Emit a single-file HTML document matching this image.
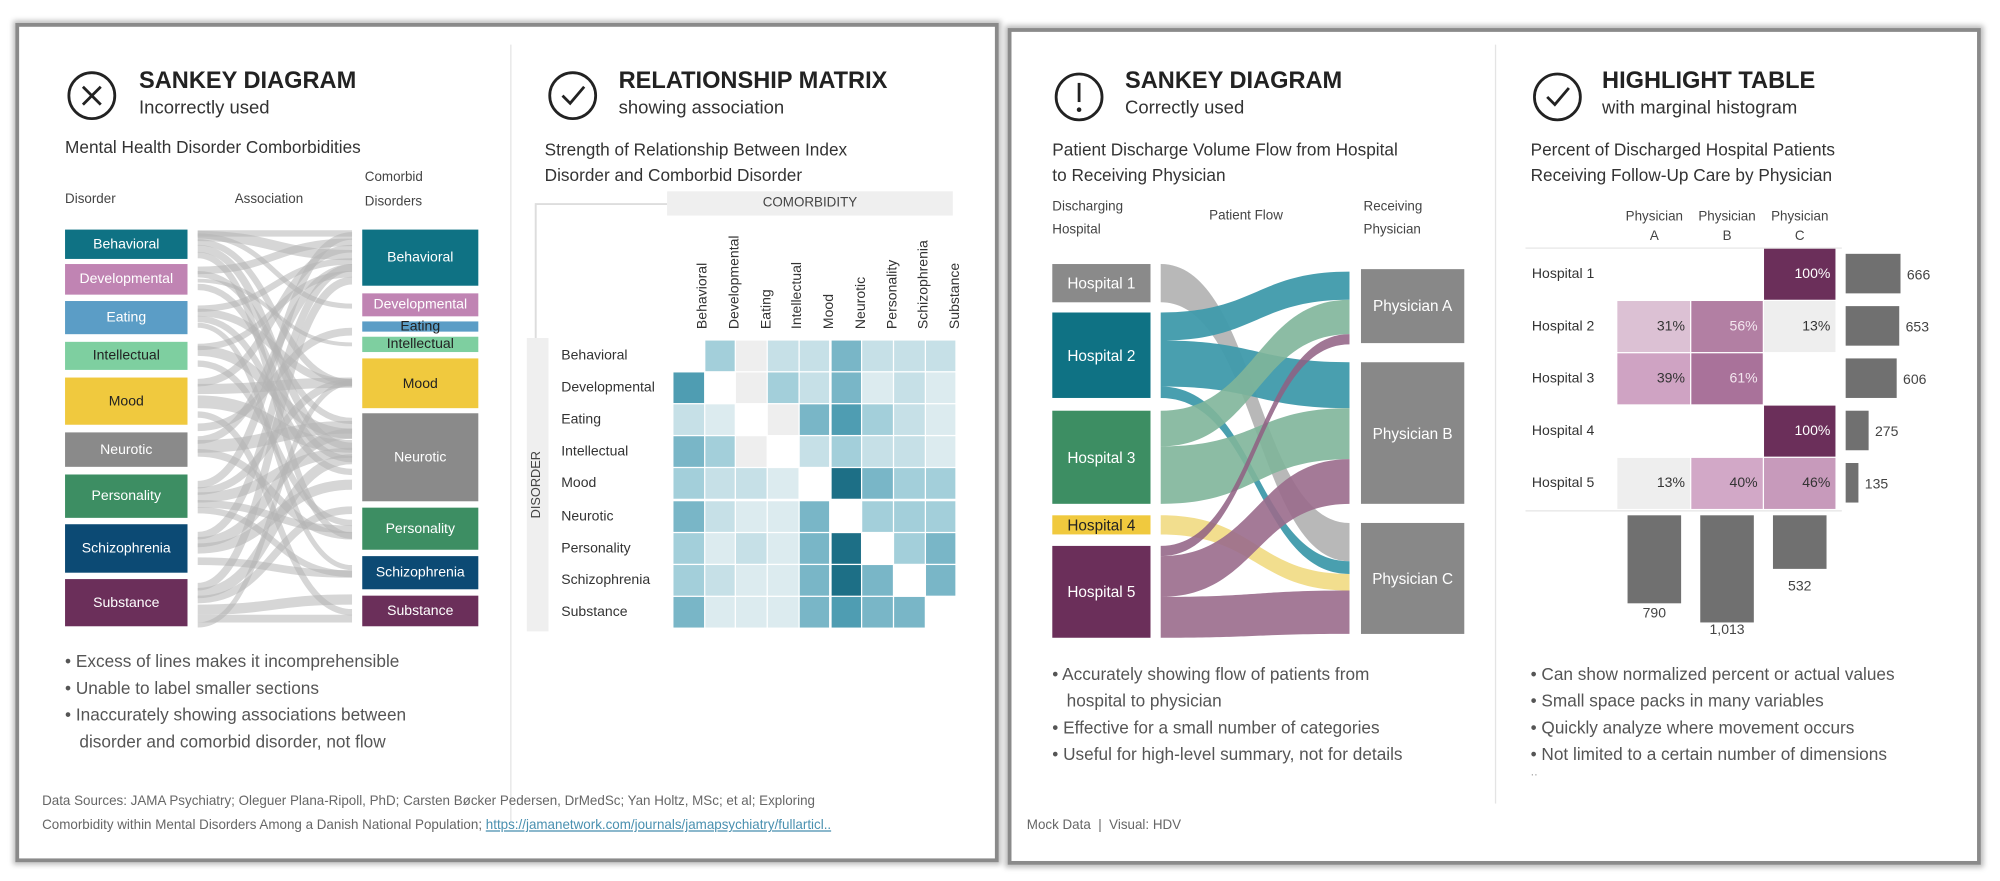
<!DOCTYPE html>
<html><head><meta charset="utf-8"><style>
html,body{margin:0;padding:0;background:#fff;width:2000px;height:881px;overflow:hidden}
#w{position:absolute;left:0;top:0;width:1568px;height:691px;transform:scale(1.27551);transform-origin:0 0;font-family:"Liberation Sans",sans-serif}
.card{position:absolute;background:#fff;border:3px solid #8a8a8a;box-shadow:0 0 4px 2px #bbb}
.t{position:absolute;white-space:nowrap;color:#333}
.h{font-weight:bold;font-size:18.5px;color:#222}
.s{font-size:14.5px;color:#333}
.c{font-size:13.5px;color:#333}
.l{font-size:10.5px;color:#444}
.b{font-size:13.5px;color:#555}
.box{position:absolute;color:#fff;font-size:11px;display:flex;align-items:center;justify-content:center}
</style></head><body><div id="w">
<div class="card" style="left:12px;top:18px;width:765px;height:652px"></div>
<div class="card" style="left:790px;top:22px;width:757px;height:650px"></div>
<div style="position:absolute;left:400px;top:35px;width:1px;height:610px;background:#e4e4e4"></div>
<div style="position:absolute;left:1172px;top:35px;width:1px;height:595px;background:#e4e4e4"></div>

<svg width="1568" height="691" style="position:absolute;left:0;top:0">
<g fill="none" stroke="#222" stroke-width="2.2">
<circle cx="72" cy="75" r="18"/><path d="M65 68 L79 82 M79 68 L65 82"/>
<circle cx="449" cy="75" r="18"/><path d="M441 75 L447 81 L458 68"/>
<circle cx="846" cy="76" r="18"/><path d="M846 65 L846 80"/>
<circle cx="1221" cy="76" r="18"/><path d="M1213 76 L1219 82 L1230 69"/>
</g>
<circle cx="846" cy="86" r="1.8" fill="#222"/>
<g fill="none" stroke="#b5b5b5" stroke-opacity="0.55">
<path d="M155 185C215 185 215 200 276 200" stroke-width="8"/><path d="M155 185C215 185 215 240 276 240" stroke-width="4"/>
<path d="M155 190C215 190 215 300 276 300" stroke-width="5"/><path d="M155 195C215 195 215 350 276 350" stroke-width="6"/>
<path d="M155 200C215 200 215 420 276 420" stroke-width="5"/><path d="M155 212C215 212 215 190 276 190" stroke-width="6"/>
<path d="M155 215C215 215 215 330 276 330" stroke-width="5"/><path d="M155 220C215 220 215 270 276 270" stroke-width="3"/>
<path d="M155 225C215 225 215 360 276 360" stroke-width="5"/><path d="M155 242C215 242 215 205 276 205" stroke-width="5"/>
<path d="M155 245C215 245 215 300 276 300" stroke-width="6"/><path d="M155 250C215 250 215 370 276 370" stroke-width="5"/>
<path d="M155 255C215 255 215 445 276 445" stroke-width="4"/><path d="M155 272C215 272 215 215 276 215" stroke-width="5"/>
<path d="M155 275C215 275 215 340 276 340" stroke-width="8"/><path d="M155 285C215 285 215 410 276 410" stroke-width="5"/>
<path d="M155 300C215 300 215 195 276 195" stroke-width="6"/><path d="M155 305C215 305 215 300 276 300" stroke-width="8"/>
<path d="M155 315C215 315 215 350 276 350" stroke-width="10"/><path d="M155 325C215 325 215 480 276 480" stroke-width="5"/>
<path d="M155 345C215 345 215 210 276 210" stroke-width="6"/><path d="M155 350C215 350 215 335 276 335" stroke-width="10"/>
<path d="M155 355C215 355 215 420 276 420" stroke-width="6"/><path d="M155 380C215 380 215 185 276 185" stroke-width="6"/>
<path d="M155 385C215 385 215 300 276 300" stroke-width="6"/><path d="M155 390C215 390 215 355 276 355" stroke-width="8"/>
<path d="M155 395C215 395 215 415 276 415" stroke-width="6"/><path d="M155 400C215 400 215 450 276 450" stroke-width="5"/>
<path d="M155 420C215 420 215 210 276 210" stroke-width="6"/><path d="M155 425C215 425 215 340 276 340" stroke-width="8"/>
<path d="M155 430C215 430 215 380 276 380" stroke-width="8"/><path d="M155 440C215 440 215 450 276 450" stroke-width="6"/>
<path d="M155 460C215 460 215 220 276 220" stroke-width="6"/><path d="M155 465C215 465 215 360 276 360" stroke-width="8"/>
<path d="M155 470C215 470 215 400 276 400" stroke-width="6"/><path d="M155 478C215 478 215 470 276 470" stroke-width="8"/>
<path d="M155 485C215 485 215 485 276 485" stroke-width="6"/><path d="M155 490C215 490 215 300 276 300" stroke-width="4"/>
<path d="M155 183C215 183 215 183 276 183" stroke-width="5"/><path d="M155 335C215 335 215 260 276 260" stroke-width="6"/>
</g>
<!-- matrix bracket -->
<path d="M523 160 L420 160 L420 265" fill="none" stroke="#ddd" stroke-width="1.5"/>
<!-- patient sankey flows -->
<g stroke="none">
<path d="M910 207C985 207 985 410 1058 410L1058 440C985 440 985 237 910 237Z" fill="#b0b0b0" opacity="0.9"/>
<path d="M910 245C985 245 985 213 1058 213L1058 235C985 235 985 267 910 267Z" fill="#3f9aab" opacity="0.95"/>
<path d="M910 267C985 267 985 284 1058 284L1058 320C985 320 985 303 910 303Z" fill="#3f9aab" opacity="0.95"/>
<path d="M910 303C985 303 985 440 1058 440L1058 450C985 450 985 312 910 312Z" fill="#3f9aab" opacity="0.95"/>
<path d="M910 322C985 322 985 235 1058 235L1058 262C985 262 985 350 910 350Z" fill="#7fb59a" opacity="0.9"/>
<path d="M910 350C985 350 985 320 1058 320L1058 360C985 360 985 395 910 395Z" fill="#7fb59a" opacity="0.9"/>
<path d="M910 404C985 404 985 450 1058 450L1058 463C985 463 985 419 910 419Z" fill="#f1dc88" opacity="0.95"/>
<path d="M910 428C985 428 985 262 1058 262L1058 270C985 270 985 436 910 436Z" fill="#8f5f82" opacity="0.85"/>
<path d="M910 436C985 436 985 360 1058 360L1058 395C985 395 985 468 910 468Z" fill="#9a6c8c" opacity="0.9"/>
<path d="M910 468C985 468 985 463 1058 463L1058 497C985 497 985 500 910 500Z" fill="#9a6c8c" opacity="0.9"/>
</g>
<!-- histogram -->
<g fill="#707070">
<rect x="1447" y="199" width="43" height="31"/><rect x="1447" y="240" width="42" height="31"/>
<rect x="1447" y="281" width="40" height="31"/><rect x="1447" y="322" width="18" height="31"/>
<rect x="1447" y="363" width="10" height="31"/>
<rect x="1276" y="404" width="42" height="69"/><rect x="1333" y="404" width="42" height="84"/>
<rect x="1390" y="404" width="42" height="42"/>
</g>
<g font-family="Liberation Sans" font-size="11" fill="#444">
<text x="1495" y="219">666</text><text x="1494" y="260">653</text><text x="1492" y="301">606</text>
<text x="1470" y="342">275</text><text x="1462" y="383">135</text>
<text x="1297" y="484" text-anchor="middle">790</text><text x="1354" y="497" text-anchor="middle">1,013</text>
<text x="1411" y="463" text-anchor="middle">532</text>
</g>
</svg>

<!-- Section 1 -->
<div class="t h" style="left:109px;top:52px">SANKEY DIAGRAM</div>
<div class="t s" style="left:109px;top:77px">Incorrectly used</div>
<div class="t c" style="left:51px;top:108px">Mental Health Disorder Comborbidities</div>
<div class="t l" style="left:51px;top:150px">Disorder</div>
<div class="t l" style="left:184px;top:150px">Association</div>
<div class="t l" style="left:286px;top:130px;line-height:19px">Comorbid<br>Disorders</div>
<div class="box" style="left:51px;top:180px;width:96px;height:23px;background:#0f7284">Behavioral</div>
<div class="box" style="left:51px;top:207px;width:96px;height:24px;background:#c084b3">Developmental</div>
<div class="box" style="left:51px;top:236px;width:96px;height:26px;background:#5b9dc6">Eating</div>
<div class="box" style="left:51px;top:268px;width:96px;height:22px;background:#7ecfa0;color:#222">Intellectual</div>
<div class="box" style="left:51px;top:296px;width:96px;height:37px;background:#f0c93e;color:#222">Mood</div>
<div class="box" style="left:51px;top:339px;width:96px;height:27px;background:#8a8a8a">Neurotic</div>
<div class="box" style="left:51px;top:372px;width:96px;height:34px;background:#3d8e63">Personality</div>
<div class="box" style="left:51px;top:411px;width:96px;height:38px;background:#0c4a74">Schizophrenia</div>
<div class="box" style="left:51px;top:454px;width:96px;height:37px;background:#6b2f5a">Substance</div>
<div class="box" style="left:284px;top:180px;width:91px;height:44px;background:#0f7284">Behavioral</div>
<div class="box" style="left:284px;top:230px;width:91px;height:18px;background:#c084b3">Developmental</div>
<div class="box" style="left:284px;top:252px;width:91px;height:8px;background:#5b9dc6;color:#222">Eating</div>
<div class="box" style="left:284px;top:264px;width:91px;height:12px;background:#7ecfa0;color:#222">Intellectual</div>
<div class="box" style="left:284px;top:281px;width:91px;height:39px;background:#f0c93e;color:#222">Mood</div>
<div class="box" style="left:284px;top:324px;width:91px;height:69px;background:#8a8a8a">Neurotic</div>
<div class="box" style="left:284px;top:398px;width:91px;height:33px;background:#3d8e63">Personality</div>
<div class="box" style="left:284px;top:436px;width:91px;height:26px;background:#0c4a74">Schizophrenia</div>
<div class="box" style="left:284px;top:467px;width:91px;height:24px;background:#6b2f5a">Substance</div>
<div class="t b" style="left:51px;top:508px;line-height:21px">• Excess of lines makes it incomprehensible<br>• Unable to label smaller sections<br>• Inaccurately showing associations between<br>&nbsp;&nbsp;&nbsp;disorder and comorbid disorder, not flow</div>
<div class="t" style="left:33px;top:619px;font-size:10.5px;color:#666;line-height:19px">Data Sources: JAMA Psychiatry; Oleguer Plana-Ripoll, PhD; Carsten Bøcker Pedersen, DrMedSc; Yan Holtz, MSc; et al; Exploring<br>Comorbidity within Mental Disorders Among a Danish National Population; <span style="color:#4a90b0;text-decoration:underline">https://jamanetwork.com/journals/jamapsychiatry/fullarticl..</span></div>

<!-- Section 2 -->
<div class="t h" style="left:485px;top:52px">RELATIONSHIP MATRIX</div>
<div class="t s" style="left:485px;top:77px">showing association</div>
<div class="t c" style="left:427px;top:108px;line-height:20px">Strength of Relationship Between Index<br>Disorder and Comborbid Disorder</div>
<div style="position:absolute;left:523px;top:150px;width:224px;height:19px;background:#efefef;font-size:10.5px;color:#444;text-align:center;line-height:19px">COMORBIDITY</div>
<div style="position:absolute;left:413px;top:265px;width:17px;height:230px;background:#efefef"></div>
<div class="t" style="left:421px;top:380px;font-size:10px;color:#444;transform:translate(-50%,-50%) rotate(-90deg)">DISORDER</div>
<div id="cols"></div>
<div id="mx"></div>

<!-- Section 3 -->
<div class="t h" style="left:882px;top:52px">SANKEY DIAGRAM</div>
<div class="t s" style="left:882px;top:77px">Correctly used</div>
<div class="t c" style="left:825px;top:108px;line-height:20px">Patient Discharge Volume Flow from Hospital<br>to Receiving Physician</div>
<div class="t l" style="left:825px;top:153px;line-height:18px">Discharging<br>Hospital</div>
<div class="t l" style="left:948px;top:163px">Patient Flow</div>
<div class="t l" style="left:1069px;top:153px;line-height:18px">Receiving<br>Physician</div>
<div class="box" style="left:825px;top:207px;width:77px;height:30px;background:#8a8a8a;font-size:12px">Hospital 1</div>
<div class="box" style="left:825px;top:245px;width:77px;height:67px;background:#0f7284;font-size:12px">Hospital 2</div>
<div class="box" style="left:825px;top:322px;width:77px;height:73px;background:#3d8e63;font-size:12px">Hospital 3</div>
<div class="box" style="left:825px;top:404px;width:77px;height:15px;background:#f0c93e;color:#222;font-size:12px">Hospital 4</div>
<div class="box" style="left:825px;top:428px;width:77px;height:72px;background:#6b2f5a;font-size:12px">Hospital 5</div>
<div class="box" style="left:1067px;top:211px;width:81px;height:58px;background:#888;font-size:12px">Physician A</div>
<div class="box" style="left:1067px;top:284px;width:81px;height:111px;background:#888;font-size:12px">Physician B</div>
<div class="box" style="left:1067px;top:410px;width:81px;height:87px;background:#888;font-size:12px">Physician C</div>
<div class="t b" style="left:825px;top:518px;line-height:21px">• Accurately showing flow of patients from<br>&nbsp;&nbsp;&nbsp;hospital to physician<br>• Effective for a small number of categories<br>• Useful for high-level summary, not for details</div>
<div class="t" style="left:805px;top:641px;font-size:10.5px;color:#666">Mock Data &nbsp;|&nbsp; Visual: HDV</div>

<!-- Section 4 -->
<div class="t h" style="left:1256px;top:52px">HIGHLIGHT TABLE</div>
<div class="t s" style="left:1256px;top:77px">with marginal histogram</div>
<div class="t c" style="left:1200px;top:108px;line-height:20px">Percent of Discharged Hospital Patients<br>Receiving Follow-Up Care by Physician</div>
<div class="t l" style="left:1297px;top:163px;transform:translateX(-50%);text-align:center;line-height:15px">Physician<br>A</div>
<div class="t l" style="left:1354px;top:163px;transform:translateX(-50%);text-align:center;line-height:15px">Physician<br>B</div>
<div class="t l" style="left:1411px;top:163px;transform:translateX(-50%);text-align:center;line-height:15px">Physician<br>C</div>
<div style="position:absolute;left:1196px;top:194px;width:248px;height:205px;border-top:1px solid #e6e6e6;border-bottom:1px solid #e6e6e6"></div>
<div id="ht"></div>
<div class="t b" style="left:1200px;top:518px;line-height:21px">• Can show normalized percent or actual values<br>• Small space packs in many variables<br>• Quickly analyze where movement occurs<br>• Not limited to a certain number of dimensions</div>
<div class="t" style="left:1200px;top:600px;font-size:10px;color:#aaa">..</div>

<script>
var names=["Behavioral","Developmental","Eating","Intellectual","Mood","Neurotic","Personality","Schizophrenia","Substance"];
var pal=["#eeeeee","#dcebef","#c6e0e7","#a3cfda","#79b6c7","#4f9db2","#1d6f86"];
var M=[[-1,3,0,2,2,4,2,2,2],[5,-1,0,3,2,4,1,2,1],[2,1,-1,0,4,5,3,2,1],[4,3,0,-1,2,3,2,2,1],[3,2,2,1,-1,6,4,3,3],[4,2,1,1,4,-1,3,3,3],[3,1,2,1,4,6,-1,3,4],[3,2,1,1,4,6,4,-1,4],[4,1,1,1,4,5,4,4,-1]];
var h="",cw=24.7,rh=25.1,x0=528,y0=267;
for(var r=0;r<9;r++){h+='<div class="t" style="left:440px;top:'+(y0+r*rh+6)+'px;font-size:11px;color:#333">'+names[r]+'</div>';
for(var c=0;c<9;c++){var v=M[r][c];h+='<div style="position:absolute;left:'+(x0+c*cw)+'px;top:'+(y0+r*rh)+'px;width:'+(cw-1)+'px;height:'+(rh-1)+'px;background:'+(v<0?'#fff':pal[v])+'"></div>';}}
document.getElementById("mx").innerHTML=h;
h="";for(var c=0;c<9;c++){h+='<div class="t" style="left:'+(x0+c*cw+cw/2)+'px;top:260px;font-size:11px;color:#333;transform:translate(-50%,0) rotate(-90deg);transform-origin:50% 0;"><span style="display:inline-block;transform:translate(-50%,-50%)"></span></div>';}
h="";for(var c=0;c<9;c++){h+='<div class="t" style="left:'+(x0+c*cw+cw/2+5)+'px;top:258px;font-size:11px;color:#333;transform:rotate(-90deg);transform-origin:0 0">'+names[c]+'</div>';}
document.getElementById("cols").innerHTML=h;
var hn=["Hospital 1","Hospital 2","Hospital 3","Hospital 4","Hospital 5"];
var T=[[null,null,["100%","#6b2f5a","#fff"]],[["31%","#dcc1d4"],["56%","#b27fa3","#f3e6ef"],["13%","#eeeeee"]],[["39%","#cfa3c3"],["61%","#a9729a","#f3e6ef"],null],[null,null,["100%","#6b2f5a","#fff"]],[["13%","#eeeeee"],["40%","#d2a8c7"],["46%","#c79abb"]]];
var cx=[1268,1326,1383];h="";
for(var r=0;r<5;r++){var y=195+r*41;h+='<div class="t" style="left:1201px;top:'+(y+14)+'px;font-size:11px;color:#333">'+hn[r]+'</div>';
for(var c=0;c<3;c++){var d=T[r][c];if(!d)continue;h+='<div style="position:absolute;left:'+cx[c]+'px;top:'+y+'px;width:'+(c==0?57:56)+'px;height:40px;background:'+d[1]+';color:'+(d[2]||'#333')+';font-size:11px;text-align:right;box-sizing:border-box;padding-right:4px;line-height:40px">'+d[0]+'</div>';}}
document.getElementById("ht").innerHTML=h;
</script>
</div></body></html>
